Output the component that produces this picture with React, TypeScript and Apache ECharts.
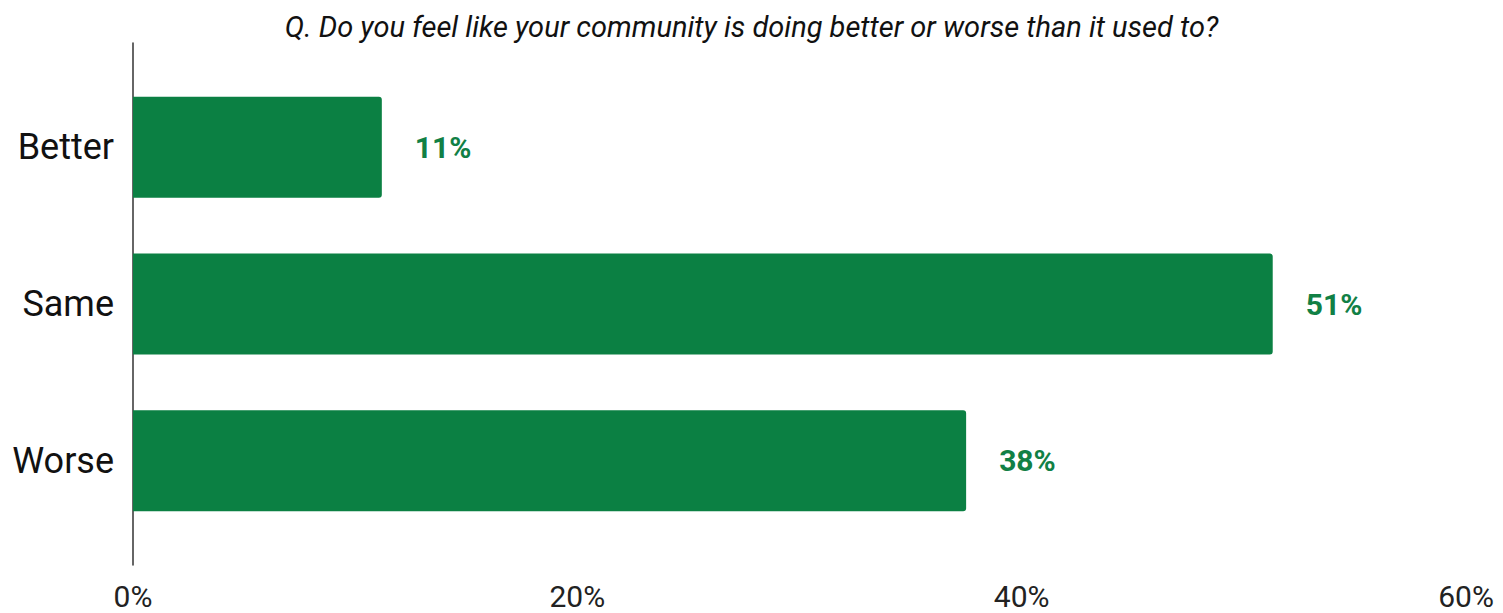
import React, { useEffect, useRef } from "react";
import * as echarts from "echarts";

const categories = ["Better", "Same", "Worse"];
const values = [11.2, 51.3, 37.5];
const xTicks = [0, 20, 40, 60];
const titleText = "Q. Do you feel like your community is doing better or worse than it used to?";

const GREEN = "#0b8043";
const LABEL_GREEN = "#118045";

export default function App() {
  const ref = useRef<HTMLDivElement>(null);
  useEffect(() => {
    if (!ref.current) return;
    const chart = echarts.init(ref.current, undefined, { renderer: "svg" });
    chart.setOption({
      animation: false,
      backgroundColor: "#ffffff",
      textStyle: { fontFamily: "Roboto" },
      title: {
        text: titleText,
        left: "center",
        top: 7,
        textStyle: {
          fontFamily: "Roboto",
          fontStyle: "italic",
          fontWeight: "normal",
          fontSize: 29,
          color: "#111",
        },
      },
      grid: [
        { left: 133, right: 37, top: 69, bottom: 74 },
        { left: 133, right: 37, top: 43, bottom: 48 },
      ],
      xAxis: [
        {
          type: "value",
          gridIndex: 0,
          min: 0,
          max: xTicks[xTicks.length - 1],
          interval: 20,
          axisLine: { show: false },
          axisTick: { show: false },
          splitLine: { show: false },
          axisLabel: {
            formatter: (v: number) => `${v}%`,
            fontFamily: "Roboto",
            fontSize: 30,
            lineHeight: 30,
            color: "#222",
            margin: 42,
          },
        },
        {
          type: "value",
          gridIndex: 1,
          min: 0,
          max: 60,
          show: false,
        },
      ],
      yAxis: [
        {
          type: "category",
          gridIndex: 0,
          data: categories,
          inverse: true,
          axisLine: { show: false },
          axisTick: { show: false },
          axisLabel: {
            fontFamily: "Roboto",
            fontSize: 36,
            color: "#111",
            margin: 19,
          },
        },
        {
          type: "category",
          gridIndex: 1,
          data: [""],
          axisLine: { show: true, lineStyle: { color: "#333", width: 1.5 } },
          axisTick: { show: false },
          axisLabel: { show: false },
        },
      ],
      series: [
        {
          type: "bar",
          xAxisIndex: 0,
          yAxisIndex: 0,
          data: values,
          barWidth: 101,
          itemStyle: { color: GREEN, borderRadius: [0, 3, 3, 0] },
          label: {
            show: true,
            position: "right",
            distance: 33,
            formatter: (p: any) => `${Math.round(p.value)}%`,
            fontFamily: "Roboto",
            fontWeight: "bold",
            fontSize: 30,
            color: LABEL_GREEN,
          },
        },
      ],
    });
    return () => chart.dispose();
  }, []);
  return (
    <div
      ref={ref}
      style={{ position: "fixed", left: 0, top: 0, width: 1503, height: 613 }}
    />
  );
}
